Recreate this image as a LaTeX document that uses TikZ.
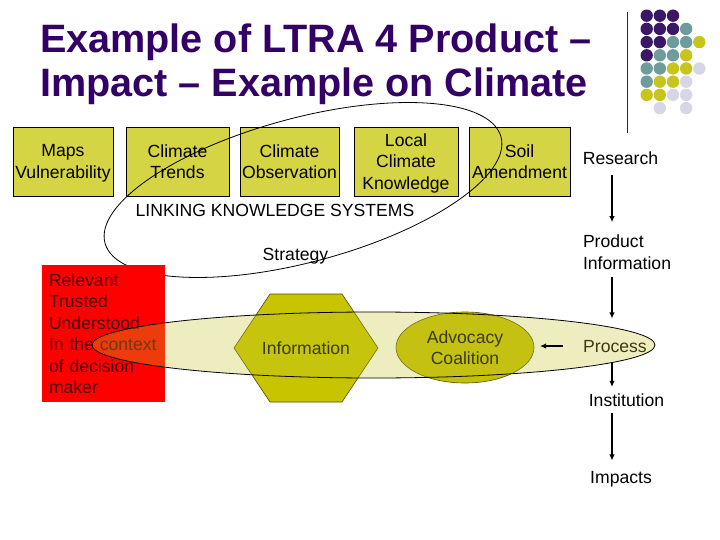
\documentclass[tikz,border=0pt]{standalone}
\usepackage{fontspec}
\setmainfont{Liberation Sans}
\usetikzlibrary{shapes.geometric,arrows.meta}
\definecolor{titlepurple}{HTML}{330066}
\definecolor{boxyellow}{HTML}{D4D444}
\definecolor{hexolive}{HTML}{C8C400}
\definecolor{advolive}{HTML}{C4C00A}
\definecolor{olivetext}{HTML}{4D4D0D}
\definecolor{redtext}{HTML}{4A0000}
\definecolor{lightell}{HTML}{C4C42B}
\definecolor{dotpurple}{HTML}{3A1866}
\definecolor{dotteal}{HTML}{6E9C9C}
\definecolor{dotyellow}{HTML}{C8C41E}
\definecolor{dotlav}{HTML}{D6D6E6}
\newcommand\nodp[1]{\raisebox{0pt}[\height][0pt]{#1}}
\begin{document}
\begin{tikzpicture}[x=1pt,y=-1pt,
  every node/.style={inner sep=0pt, outer sep=0pt},
  txt/.style={font=\fontsize{17.6}{21.5}\selectfont},
  kbox/.style={txt, draw=black, line width=0.8pt, fill=boxyellow, minimum height=69pt, align=center},
  ttl/.style={font=\fontsize{39.6}{44}\selectfont\bfseries, text=titlepurple, anchor=base west},
  arr/.style={line width=1.5pt, -{Latex[length=6pt,width=5.5pt]}}
]
\useasboundingbox (0,0) rectangle (720,540);
% decoration
\draw[line width=1pt, black!85] (627,12) -- (627,133);
\foreach \i/\j in {0/1,1/1,2/1,0/2,1/2,2/2,0/3,1/3,0/4}
  \fill[dotpurple] (646.7+13.15*\i,15.7+13.2*\j-13.2) circle[radius=6.2];
\foreach \i/\j in {3/2,2/3,3/3,1/4,2/4,0/5,1/5,0/6}
  \fill[dotteal] (646.7+13.15*\i,15.7+13.2*\j-13.2) circle[radius=6.2];
\foreach \i/\j in {4/3,3/4,2/5,3/5,1/6,2/6,0/7,1/7}
  \fill[dotyellow] (646.7+13.15*\i,15.7+13.2*\j-13.2) circle[radius=6.2];
\foreach \i/\j in {4/5,3/6,2/7,3/7,1/8,3/8}
  \fill[dotlav] (646.7+13.15*\i,15.7+13.2*\j-13.2) circle[radius=6.2];
% title
\node[ttl] (t1) at (40,53) {Example of LTRA 4 Product –};
\node[ttl] (t2) at (40,97) {Impact – Example on Climate};
% knowledge boxes
\node[kbox, minimum width=100pt] (b1) at (63,161.5) {Maps\\\nodp{Vulnerability}};
\node[kbox, minimum width=103pt] (b2) at (177.5,161.5) {Climate\\Trends};
\node[kbox, minimum width=99pt] (b3) at (289.5,161.5) {Climate\\Observation};
\node[kbox, minimum width=104pt] (b4) at (406,161.5) {Local\\Climate\\\nodp{Knowledge}};
\node[kbox, minimum width=101pt] (b5) at (519.5,161.5) {Soil\\Amendment};
\node[txt, anchor=base] (lks) at (275,216) {LINKING KNOWLEDGE SYSTEMS};
\node[txt, anchor=base] (strat) at (295.5,260) {Strategy};
% tilted ellipse
\draw[line width=0.8pt, rotate around={15:(303,190)}] (303,190) ellipse [x radius=205, y radius=72];
% right column
\node[txt, anchor=base] (res) at (620.5,165) {Research};
\node[txt, anchor=north west, align=left] (pi) at (583,235.2) {Product\\Information};
\node[txt, anchor=base] (proc) at (615,352) {Process};
\node[txt, anchor=base] (inst) at (626.5,406) {Institution};
\node[txt, anchor=base] (imp) at (621,483) {Impacts};
% red box
\node[txt, fill=red, text=redtext, minimum width=123pt, minimum height=137pt, text width=109pt, align=left, inner xsep=7pt] (rb) at (103.5,333.5) {Relevant\\Trusted\\Understood\\In the context\\of decision\\maker};
% hexagon
\filldraw[fill=hexolive, draw=olivetext, line width=0.6pt] (234,348) -- (270,294) -- (342,294) -- (378,348) -- (342,402) -- (270,402) -- cycle;
\node[txt, text=black] (info) at (306,348) {Information};
% advocacy
\node[txt, ellipse, fill=advolive, draw=olivetext, line width=0.6pt, minimum width=138pt, minimum height=71pt, align=center, text=black] (adv) at (465,347.5) {Advocacy\\Coalition};
% big light ellipse
\draw[fill=lightell, fill opacity=0.3, line width=0.8pt] (373.5,345) ellipse [x radius=281.5, y radius=33];
% arrows
\coordinate (ax) at (612,0);
\draw[arr, shorten <=10pt, shorten >=13pt] (res.south -| ax) -- (pi.north -| ax);
\draw[arr, shorten <=7.5pt, shorten >=21.4pt] (pi.south -| ax) -- (proc.north -| ax);
\draw[arr, shorten <=10pt, shorten >=6.4pt] (proc.south -| ax) -- (inst.north -| ax);
\draw[arr, shorten <=7pt, shorten >=10.4pt] (inst.south -| ax) -- (imp.north -| ax);
\draw[arr, shorten <=20pt, shorten >=6pt] (proc.west) -- (proc.west -| adv.east);
\end{tikzpicture}
\end{document}
